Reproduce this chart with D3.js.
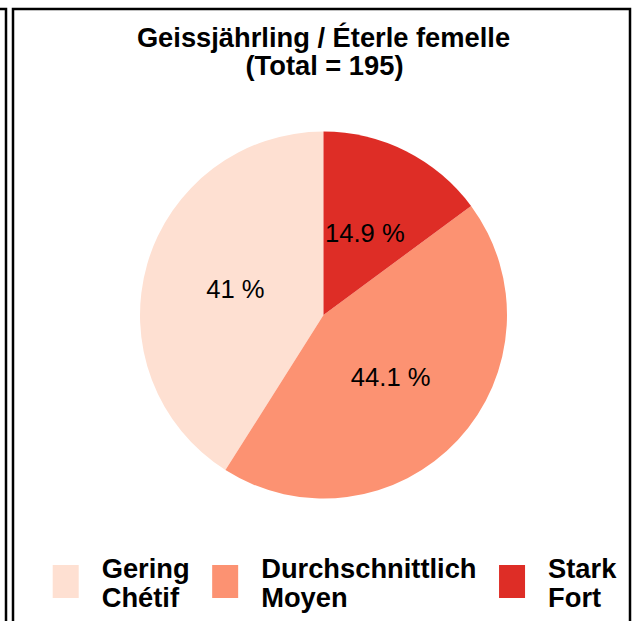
<!DOCTYPE html>
<html>
<head>
<meta charset="utf-8">
<script src="https://cdn.jsdelivr.net/npm/d3@7"></script>
<style>
  body { margin: 0; background: #fff; }
  svg { display: block; font-family: 'Liberation Sans', Arial, sans-serif; }
</style>
</head>
<body>
<svg id="chart" width="637" height="621"></svg>
<script>
// data
var titleText = 'Geissjährling / Éterle femelle';
var categories = ['Gering', 'Durchschnittlich', 'Stark'];
var categoriesFr = ['Chétif', 'Moyen', 'Fort'];
var counts = [80, 86, 29];
var colors = ['#fee0d2', '#fc9272', '#de2d26'];

var svg = d3.select('#chart'),
    cx = 323.5,
    cy = 315,
    radius = 183.5;

var total = d3.sum(counts);

// panel frames
svg.append('path')
    .attr('d', 'M-5,9 H6 V640')
    .attr('fill', 'none')
    .attr('stroke', '#000')
    .attr('stroke-width', 2.5);

svg.append('rect')
    .attr('x', 13)
    .attr('y', 9)
    .attr('width', 617)
    .attr('height', 640)
    .attr('fill', 'none')
    .attr('stroke', '#000')
    .attr('stroke-width', 2.5);

// title
var title = svg.append('text')
    .attr('text-anchor', 'middle')
    .attr('font-weight', 'bold')
    .attr('font-size', 27.3)
    .attr('fill', '#000');
title.append('tspan').attr('x', cx).attr('y', 47).text(titleText);
title.append('tspan').attr('x', cx + 1).attr('y', 75).text('(Total = ' + total + ')');

// pie (first category runs counter-clockwise from 12 o'clock)
var color = d3.scaleOrdinal().domain(categories).range(colors);

var pie = d3.pie()
    .sort(null)
    .startAngle(2 * Math.PI)
    .endAngle(0)
    .value(function(d) { return d.n; });

var data = categories.map(function(c, i) { return {key: c, n: counts[i]}; });

var arc = d3.arc().innerRadius(0).outerRadius(radius);
var labelArc = d3.arc().innerRadius(radius * 0.5).outerRadius(radius * 0.5);

var g = svg.append('g').attr('transform', 'translate(' + cx + ',' + cy + ')');

var slices = g.selectAll('g.slice')
    .data(pie(data))
    .enter().append('g')
      .attr('class', 'slice');

slices.append('path')
    .attr('d', arc)
    .attr('fill', function(d) { return color(d.data.key); });

slices.append('text')
    .attr('transform', function(d) { return 'translate(' + labelArc.centroid(d) + ')'; })
    .attr('text-anchor', 'middle')
    .attr('dy', '0.35em')
    .attr('font-size', 25.6)
    .attr('fill', '#000')
    .text(function(d) { return +(d.data.n / total * 100).toFixed(1) + ' %'; });

// legend
var legend = svg.append('g')
    .attr('font-weight', 'bold')
    .attr('font-size', 27.3)
    .attr('fill', '#000');

var lx = 52.7;
categories.forEach(function(c, i) {
  var item = legend.append('g').attr('transform', 'translate(' + lx + ',0)');
  item.append('rect')
      .attr('x', 0)
      .attr('y', 565)
      .attr('width', 26)
      .attr('height', 33)
      .attr('fill', color(c));
  var t = item.append('text').attr('x', 49);
  t.append('tspan').attr('x', 49).attr('y', 578).text(c);
  t.append('tspan').attr('x', 49).attr('y', 607).text(categoriesFr[i]);
  lx += 49 + t.node().getBBox().width + 22.5;
});
</script>
</body>
</html>
